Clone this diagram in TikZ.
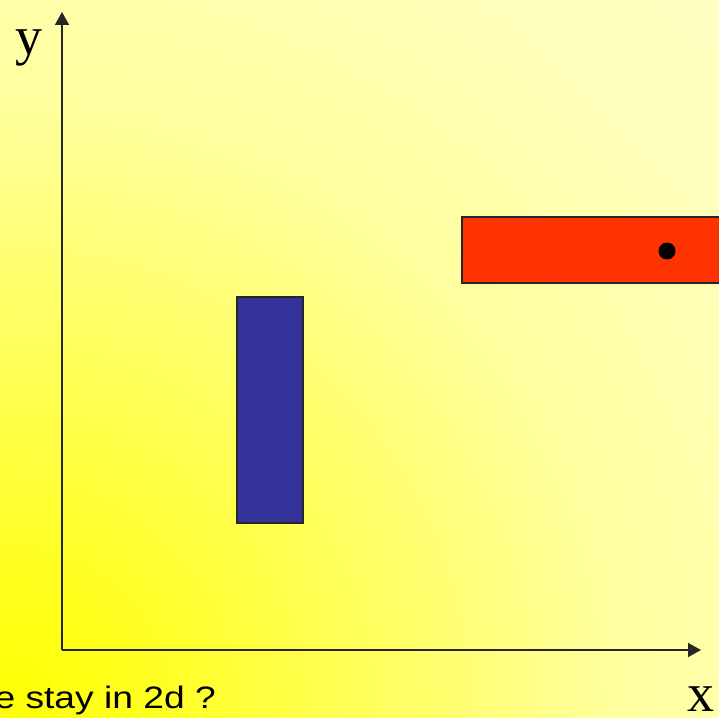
\documentclass[tikz,border=0pt]{standalone}
\usepackage{fontspec}
\setmainfont{Liberation Serif}
\setsansfont{Liberation Sans}
\usetikzlibrary{positioning, arrows.meta}

\definecolor{barblue}{RGB}{51,51,153}
\definecolor{barred}{RGB}{255,51,0}

% glow from the lower left corner (1bp = 56pt on a 1400pt circle)
\pgfdeclareradialshading{slideglow}{\pgfpoint{0bp}{0bp}}{%
    color(0bp)=(yellow);
    color(2.5bp)=(yellow!88!white);
    color(9bp)=(yellow!50!white);
    color(11bp)=(yellow!38!white);
    color(16bp)=(yellow!25!white);
    color(25bp)=(yellow!22!white);
    color(50bp)=(yellow!22!white)}

\begin{document}
\begin{tikzpicture}[
    x=1pt, y=-1pt,
    >={Triangle[length=13pt, width=14pt]},
    axis/.style={->, line width=1.6pt, draw=black!85},
    bar/.style={draw=black!85, line width=1.2pt, inner sep=0pt},
    axislabel/.style={font=\fontsize{54}{56}\selectfont, inner sep=0pt, anchor=base},
    question/.style={font=\sffamily\fontsize{31}{36}\selectfont, inner sep=0pt},
]

% frame and background
\clip (0,0) rectangle (719,717);
\shade[shading=slideglow] (0,717) circle (1400pt);

% axes
\coordinate (origin) at (62,650);
\coordinate (ytip)   at (62,12);
\coordinate (xtip)   at (701,650);
\draw[axis] (origin) -- (ytip);
\draw[axis] (origin) -- (xtip);

\node[axislabel] (ylabel) at (29,55)  {y};
\node[axislabel] (xlabel) at (701,711) {x};

% bars
\node[bar, fill=barblue, minimum width=66pt, minimum height=226pt] (bluebar) at (270,410) {};
\node[bar, fill=barred, minimum width=300pt, minimum height=66pt] (redbar) at (612,250) {};
\node[circle, fill=black, inner sep=0pt, minimum size=17pt] (dot) at (667,251) {};

% question, cut off at the left edge
\node[question, anchor=base east] (ask) at (216,708) {\scalebox{1.2}[1]{we stay in 2d ?}};

\end{tikzpicture}
\end{document}
